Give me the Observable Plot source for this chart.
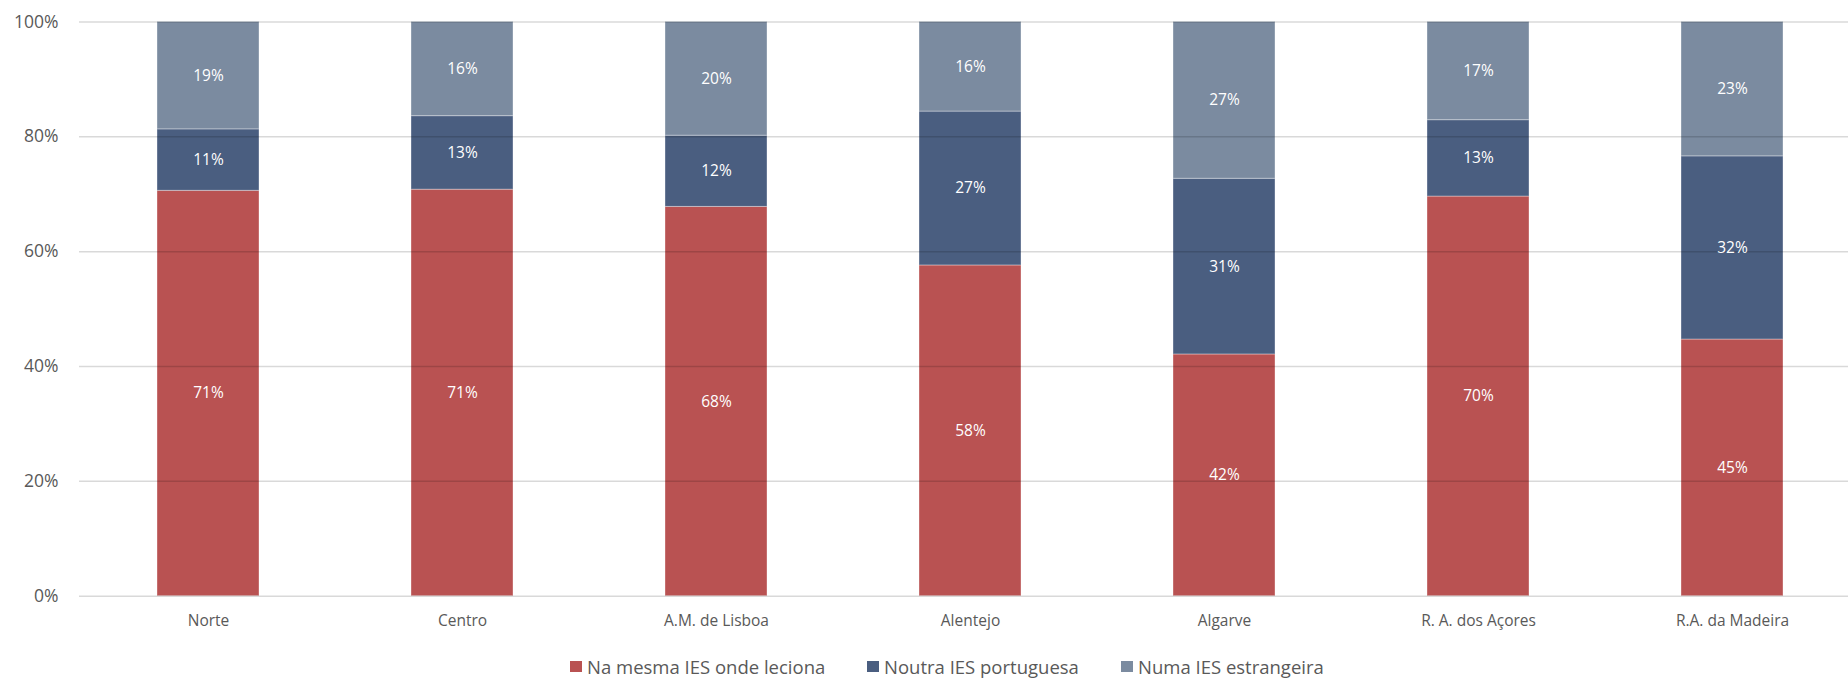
<!DOCTYPE html>
<html>
<head>
<meta charset="utf-8">
<script src="https://cdn.jsdelivr.net/npm/d3@7"></script>
<script src="https://cdn.jsdelivr.net/npm/@observablehq/plot@0.6"></script>
<style>
  html, body { margin: 0; padding: 0; background: #fff; overflow: hidden; }
  #chart { width: 1848px; }
  #legend { position: relative; width: 1848px; height: 39px; font-family: "Open Sans", sans-serif; }
  .item { position: absolute; top: 16.5px; height: 20px; display: flex; align-items: center; gap: 5px;
          font-size: 18.5px; line-height: 20px; color: #595959; white-space: nowrap; }
  .sw { width: 12px; height: 11px; display: inline-block; }
</style>
</head>
<body>
<div id="chart"></div>
<div id="legend"></div>
<script>
const categories = ["Norte", "Centro", "A.M. de Lisboa", "Alentejo", "Algarve", "R. A. dos Açores", "R.A. da Madeira"];
const series = ["Na mesma IES onde leciona", "Noutra IES portuguesa", "Numa IES estrangeira"];
const mesma       = [70.6, 70.8, 67.8, 57.6, 42.1, 69.6, 44.7];
const noutra      = [10.7, 12.8, 12.4, 26.8, 30.6, 13.3, 31.9];
const estrangeira = [18.7, 16.4, 19.8, 15.6, 27.3, 17.1, 23.4];
const yTicks = [0, 20, 40, 60, 80, 100];
const colors = ["#B95252", "#4A5E80", "#7B8BA0"];

const seriesValues = [mesma, noutra, estrangeira];
const data = [];
categories.forEach((c, i) => {
  series.forEach((s, j) => {
    data.push({category: c, series: s, value: seriesValues[j][i]});
  });
});

const chart = Plot.plot({
  width: 1848,
  height: 640,
  marginLeft: 79,
  marginRight: 0,
  marginTop: 21.5,
  marginBottom: 44.3,
  style: {fontFamily: "Open Sans, sans-serif", color: "#595959", background: "#fff"},
  x: {type: "band", domain: categories, range: [79, 1860], paddingInner: 0.6, paddingOuter: 0.3, label: null},
  y: {domain: [0, 100], label: null},
  color: {domain: series, range: colors},
  marks: [
    Plot.barY(data, {x: "category", y: "value", z: "series", fill: "series", order: series,
                     stroke: "white", strokeOpacity: 0.35, strokeWidth: 1}),
    Plot.ruleY(yTicks, {stroke: "#000", strokeOpacity: 0.15, strokeWidth: 1.5}),
    Plot.text(data, Plot.stackY({x: "category", y: "value", z: "series", order: series,
                     text: d => Math.round(d.value) + "%", fill: "white", fontSize: 15.5})),
    Plot.axisY(yTicks, {tickSize: 0, tickPadding: 21, fontSize: 17.5, tickFormat: d => d + "%", label: null}),
    Plot.axisX({tickSize: 0, tickPadding: 19, fontSize: 15.5, label: null})
  ]
});
document.getElementById("chart").appendChild(chart);

const legend = document.getElementById("legend");
const lefts = [570, 867, 1121];
series.forEach((s, j) => {
  const item = document.createElement("div");
  item.className = "item";
  item.style.left = lefts[j] + "px";
  const sw = document.createElement("span");
  sw.className = "sw";
  sw.style.background = colors[j];
  const t = document.createElement("span");
  t.textContent = s;
  item.appendChild(sw);
  item.appendChild(t);
  legend.appendChild(item);
});
</script>
</body>
</html>
